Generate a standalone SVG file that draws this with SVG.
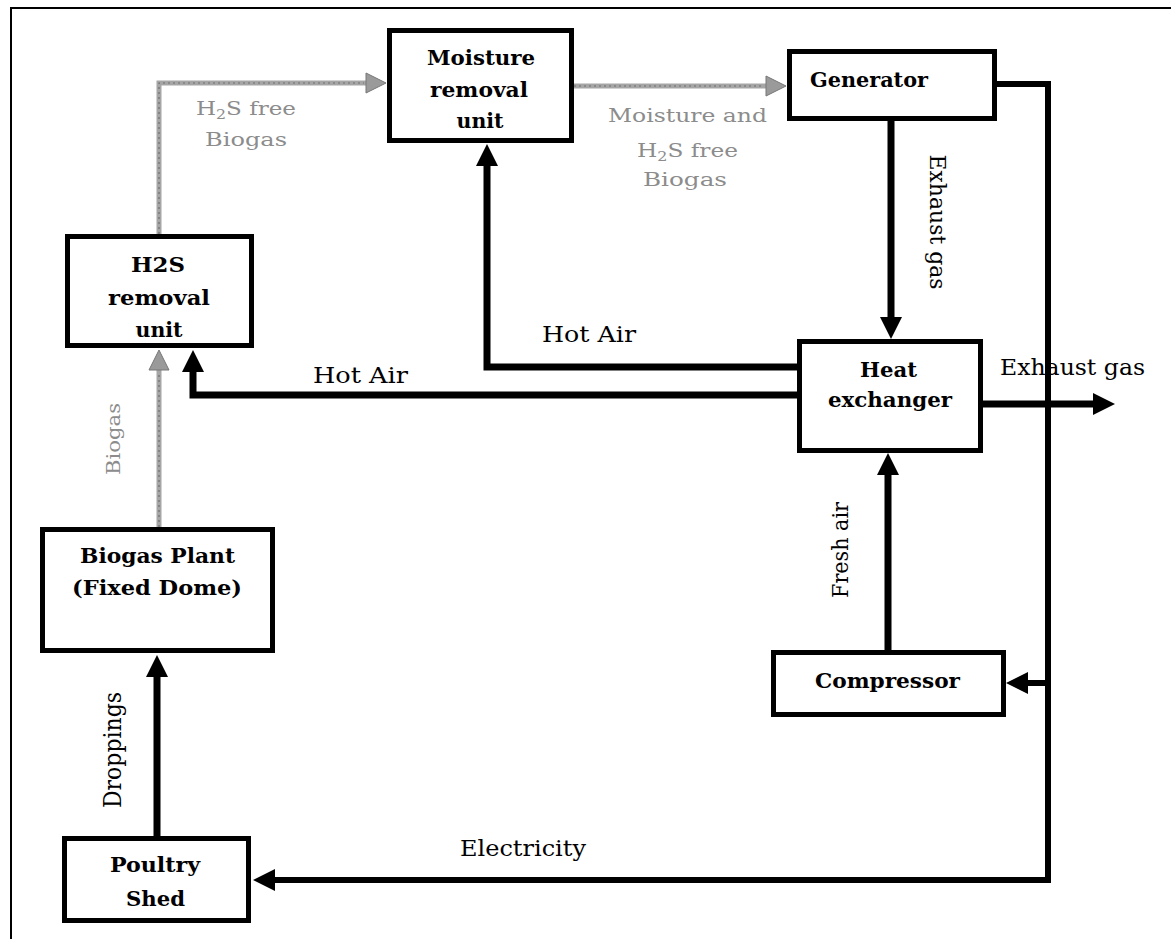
<svg xmlns="http://www.w3.org/2000/svg" width="1171" height="939" viewBox="0 0 1171 939">
<style>
.box{fill:#fff;stroke:#000;stroke-width:5}
.nt{font-family:"DejaVu Serif","Liberation Serif",serif;font-weight:bold;font-size:20px;fill:#000}
.lb{font-family:"DejaVu Serif","Liberation Serif",serif;font-size:22px;fill:#000}
.gl{font-family:"DejaVu Serif","Liberation Serif",serif;font-size:19px;fill:#8c8c8c}
.blk{fill:none;stroke:#000;stroke-width:7}
.elec{fill:none;stroke:#000;stroke-width:6}
.gry{fill:none;stroke:#a6a6a6;stroke-width:5}
.gryd{fill:none;stroke:#6e6e6e;stroke-width:1.2;stroke-dasharray:2 3}
</style>
<defs>
<marker id="ab" markerUnits="userSpaceOnUse" markerWidth="24" markerHeight="24" refX="0" refY="11" orient="auto" overflow="visible">
<path d="M0,0 L22,11 L0,22 z" fill="#000"/>
</marker>
<marker id="ag" markerUnits="userSpaceOnUse" markerWidth="22" markerHeight="22" refX="0" refY="10" orient="auto" overflow="visible">
<path d="M0,0 L20,10 L0,20 z" fill="#9a9a9a" stroke="#777" stroke-width="1"/>
</marker>
</defs>
<path d="M11,939 V8 H1171" fill="none" stroke="#000" stroke-width="2"/>
<g id="connectors">
<path class="gry" d="M159,527 V370" marker-end="url(#ag)"/>
<path class="gryd" d="M159,527 V372"/>
<path class="gry" d="M159,234 V83 H366" marker-end="url(#ag)"/>
<path class="gryd" d="M159,234 V83 H364"/>
<path class="gry" d="M574,86 H766" marker-end="url(#ag)"/>
<path class="gryd" d="M574,86 H764"/>
<path class="blk" d="M891,121 V317" marker-end="url(#ab)"/>
<path class="blk" d="M797,367 H487 V166" marker-end="url(#ab)"/>
<path class="blk" d="M797,395 H193 V372" marker-end="url(#ab)"/>
<path class="blk" d="M888,650 V475" marker-end="url(#ab)"/>
<path class="blk" d="M157,836 V677" marker-end="url(#ab)"/>
<path class="blk" d="M983,404 H1093" marker-end="url(#ab)"/>
<path class="elec" d="M997,84 H1048 V880 H275" marker-end="url(#ab)"/>
<path class="elec" d="M1048,683 H1028" marker-end="url(#ab)"/>
<text class="gl" x="196" y="115" textLength="100" lengthAdjust="spacingAndGlyphs">H<tspan font-size="13" dy="4">2</tspan><tspan dy="-4">S free</tspan></text>
<text class="gl" x="205" y="146" textLength="82" lengthAdjust="spacingAndGlyphs">Biogas</text>
<text class="gl" x="608" y="122" textLength="159" lengthAdjust="spacingAndGlyphs">Moisture and</text>
<text class="gl" x="637" y="157" textLength="101" lengthAdjust="spacingAndGlyphs">H<tspan font-size="13" dy="4">2</tspan><tspan dy="-4">S free</tspan></text>
<text class="gl" x="643" y="186" textLength="84" lengthAdjust="spacingAndGlyphs">Biogas</text>
<text class="gl" transform="translate(113,439) rotate(-90)" text-anchor="middle" dominant-baseline="central" textLength="72" lengthAdjust="spacingAndGlyphs">Biogas</text>
<text class="lb" transform="translate(937,222) rotate(90)" text-anchor="middle" dominant-baseline="central" textLength="135" lengthAdjust="spacingAndGlyphs">Exhaust gas</text>
<text class="lb" transform="translate(840,550) rotate(-90)" text-anchor="middle" dominant-baseline="central" textLength="96" lengthAdjust="spacingAndGlyphs">Fresh air</text>
<text class="lb" style="font-size:24px" transform="translate(113,750) rotate(-90)" text-anchor="middle" dominant-baseline="central" textLength="116" lengthAdjust="spacingAndGlyphs">Droppings</text>
<text class="lb" x="542" y="342" textLength="94" lengthAdjust="spacingAndGlyphs">Hot Air</text>
<text class="lb" x="313" y="383" textLength="95" lengthAdjust="spacingAndGlyphs">Hot Air</text>
<text class="lb" x="1000" y="375" textLength="145" lengthAdjust="spacingAndGlyphs">Exhaust gas</text>
<text class="lb" x="460" y="856" textLength="126" lengthAdjust="spacingAndGlyphs">Electricity</text>
</g>
<g id="h2s" text-anchor="middle">
<rect class="box" x="67.5" y="236.5" width="184" height="109"/>
<text class="nt" x="158" y="272" textLength="54" lengthAdjust="spacingAndGlyphs">H2S</text>
<text class="nt" x="159" y="305" textLength="102" lengthAdjust="spacingAndGlyphs">removal</text>
<text class="nt" x="159" y="337" textLength="47" lengthAdjust="spacingAndGlyphs">unit</text>
</g>
<g id="moisture" text-anchor="middle">
<rect class="box" x="389.5" y="30.5" width="182" height="110"/>
<text class="nt" x="481" y="65" textLength="108" lengthAdjust="spacingAndGlyphs">Moisture</text>
<text class="nt" x="479" y="97" textLength="98" lengthAdjust="spacingAndGlyphs">removal</text>
<text class="nt" x="480" y="128" textLength="47" lengthAdjust="spacingAndGlyphs">unit</text>
</g>
<g id="generator">
<rect class="box" x="789.5" y="51.5" width="205" height="67"/>
<text class="nt" x="810" y="87" textLength="118" lengthAdjust="spacingAndGlyphs">Generator</text>
</g>
<g id="heatexchanger" text-anchor="middle">
<rect class="box" x="799.5" y="341.5" width="181" height="109"/>
<text class="nt" x="888.5" y="377" textLength="57" lengthAdjust="spacingAndGlyphs">Heat</text>
<text class="nt" x="890" y="407" textLength="124" lengthAdjust="spacingAndGlyphs">exchanger</text>
</g>
<g id="biogasplant" text-anchor="middle">
<rect class="box" x="42.5" y="529.5" width="230" height="121"/>
<text class="nt" x="157.5" y="563" textLength="155" lengthAdjust="spacingAndGlyphs">Biogas Plant</text>
<text class="nt" x="157" y="595" textLength="170" lengthAdjust="spacingAndGlyphs">(Fixed Dome)</text>
</g>
<g id="compressor" text-anchor="middle">
<rect class="box" x="773.5" y="652.5" width="230" height="62"/>
<text class="nt" x="887.5" y="688" textLength="145" lengthAdjust="spacingAndGlyphs">Compressor</text>
</g>
<g id="poultry" text-anchor="middle">
<rect class="box" x="64.5" y="838.5" width="184" height="82"/>
<text class="nt" x="155" y="872" textLength="90" lengthAdjust="spacingAndGlyphs">Poultry</text>
<text class="nt" x="155.5" y="906" textLength="59" lengthAdjust="spacingAndGlyphs">Shed</text>
</g>
</svg>
